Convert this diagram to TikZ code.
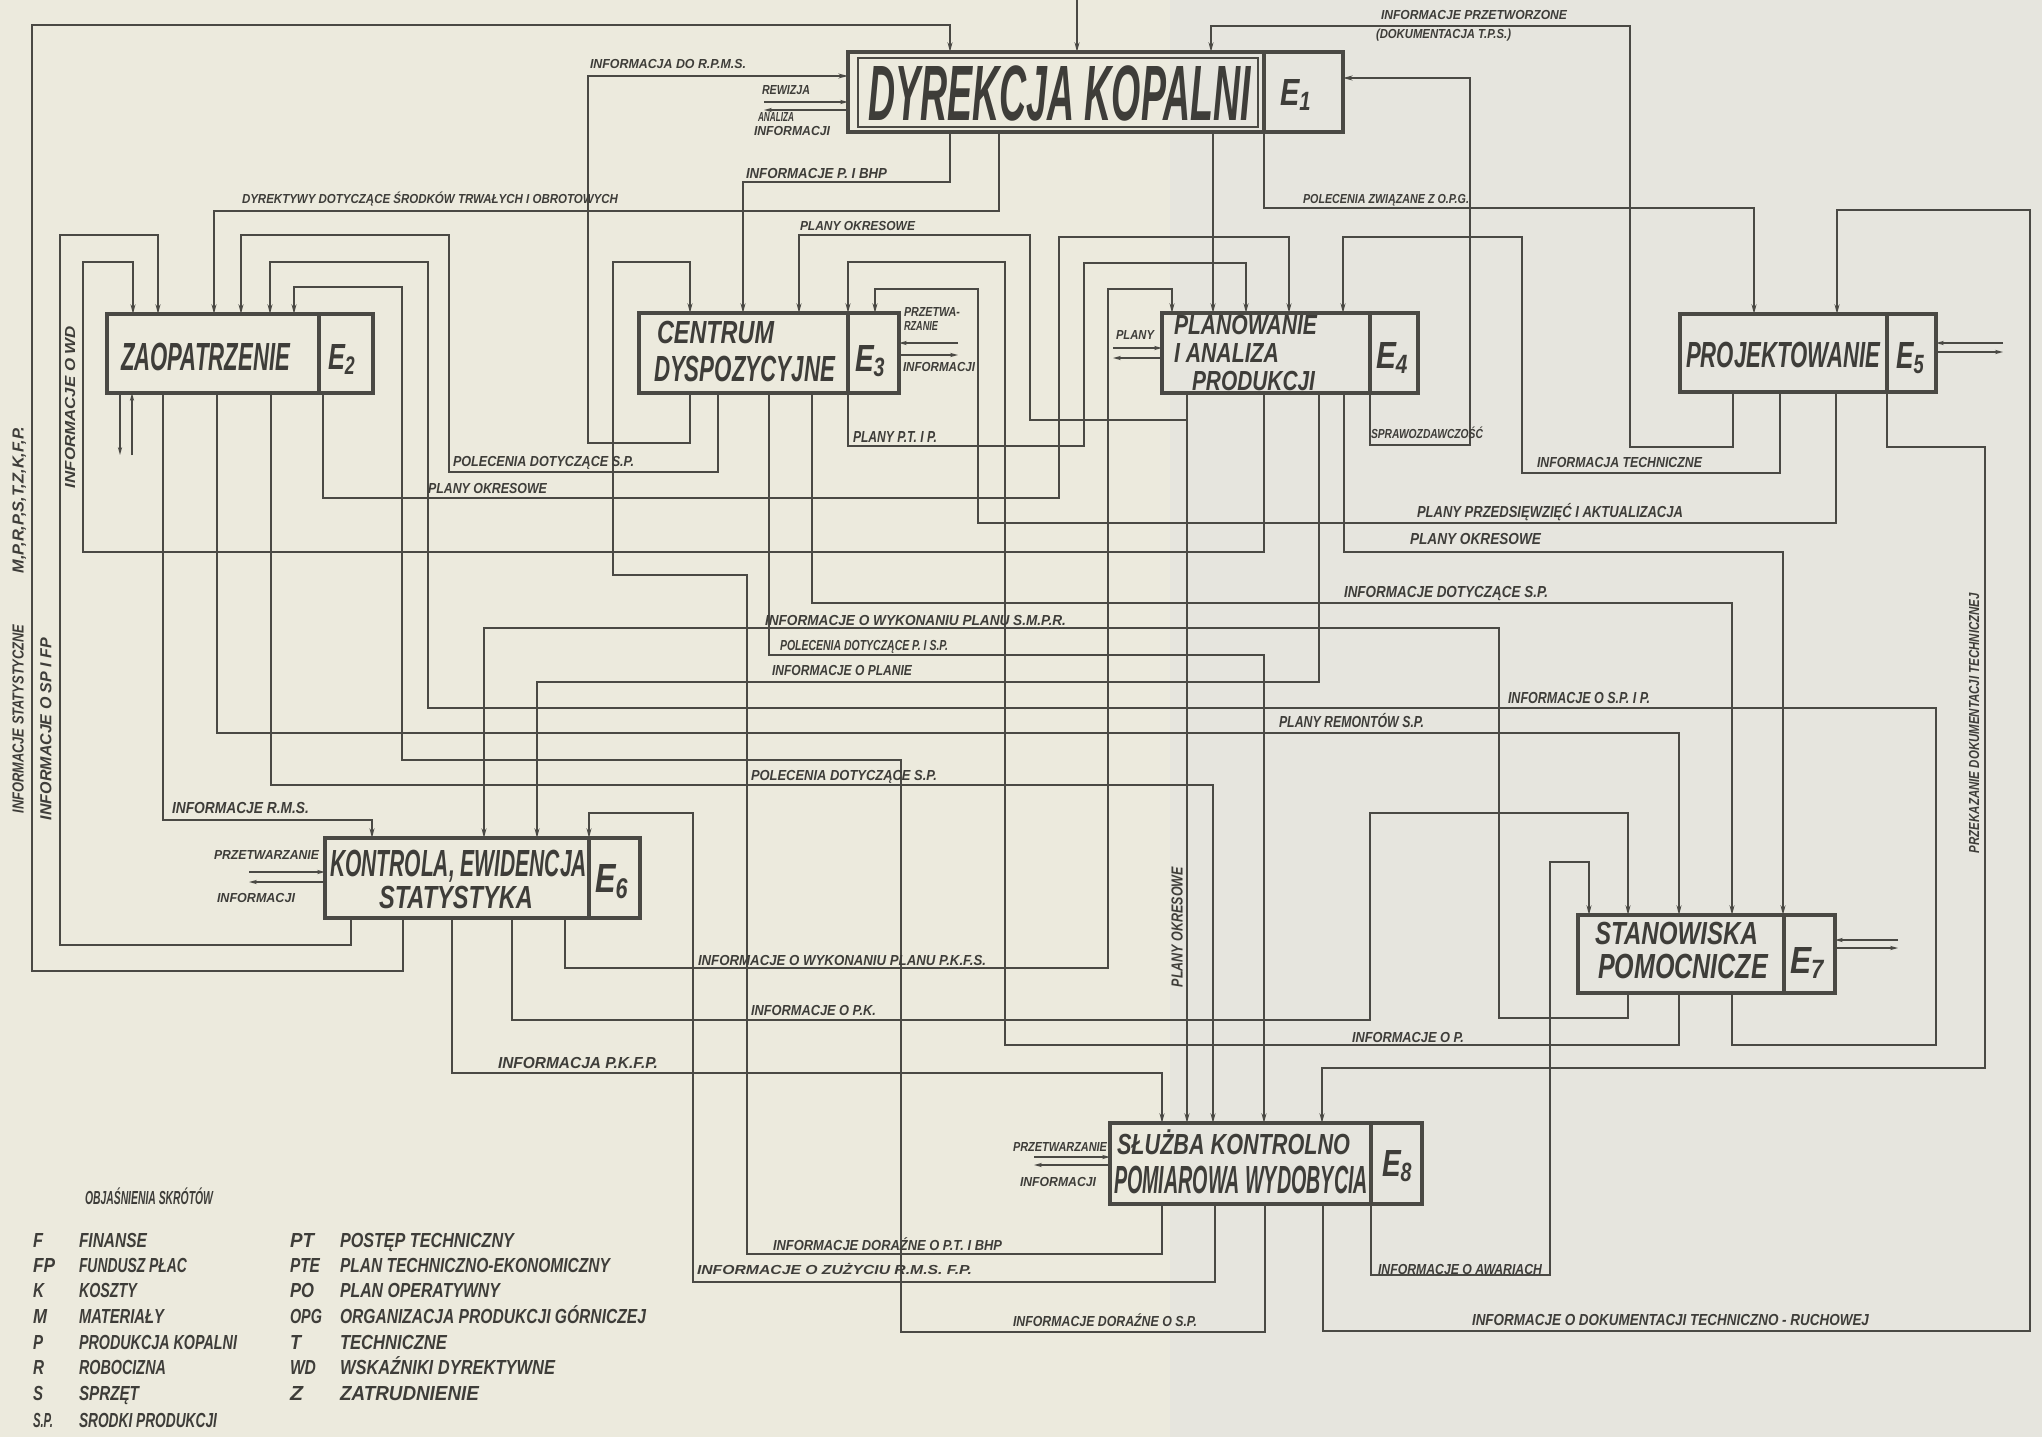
\documentclass[tikz,border=0pt]{standalone}
\usepackage{fontspec}
\usepackage{graphicx}
\usetikzlibrary{arrows.meta}
\newfontfamily\hf{Liberation Sans}
\newlength\un
\setlength\un{0.02cm}
\newcommand\tx[3]{\resizebox{#1\un}{#2\un}{\raisebox{0pt}[\fontcharht\font`E][0pt]{#3}}}
\definecolor{bg}{RGB}{236,234,221}
\definecolor{bgr}{RGB}{230,229,222}
\definecolor{ink}{RGB}{74,73,68}
\definecolor{txt}{RGB}{62,61,57}
\begin{document}
\begin{tikzpicture}[x=0.02cm, y=-0.02cm,
  wire/.style={draw=ink, line width=1.2pt, line join=miter},
  arr/.style={wire, -{Stealth[length=5.5pt,width=2.8pt]}},
  stub/.style={draw=ink, line width=1.1pt, -{Stealth[length=4.5pt,width=2.4pt]}},
  box/.style={draw=ink, line width=2pt, inner sep=0pt, outer sep=0pt, anchor=north west},
  lab/.style={inner sep=0pt, outer sep=0pt, anchor=west, text=txt, font=\hf\bfseries\itshape},
  rlab/.style={lab, anchor=center, rotate=90}]
\useasboundingbox (0,0) rectangle (2042,1437);
\fill[bg] (0,0) rectangle (2042,1437);
\fill[bgr] (1170,0) rectangle (2042,1437);

% ---------------- boxes
\node[box, line width=2.4pt, minimum width=9.9cm, minimum height=1.6cm] (E1) at (848,52) {};
\node[box, minimum width=5.32cm, minimum height=1.58cm] (E2) at (107,314) {};
\node[box, minimum width=5.2cm, minimum height=1.6cm] (E3) at (639,313) {};
\node[box, minimum width=5.12cm, minimum height=1.6cm] (E4) at (1162,313) {};
\node[box, minimum width=5.12cm, minimum height=1.56cm] (E5) at (1680,314) {};
\node[box, minimum width=6.3cm, minimum height=1.6cm] (E6) at (325,838) {};
\node[box, minimum width=5.14cm, minimum height=1.56cm] (E7) at (1578,915) {};
\node[box, minimum width=6.24cm, minimum height=1.62cm] (E8) at (1110,1123) {};
% dividers
\draw[ink, line width=1.6pt] (858,58) rectangle (1258,127);
\draw[ink, line width=2pt] (E1.north -| 1264,0) -- (E1.south -| 1264,0);
\draw[ink, line width=2pt] (E2.north -| 319,0) -- (E2.south -| 319,0);
\draw[ink, line width=2pt] (E3.north -| 848,0) -- (E3.south -| 848,0);
\draw[ink, line width=2pt] (E4.north -| 1370,0) -- (E4.south -| 1370,0);
\draw[ink, line width=2pt] (E5.north -| 1887,0) -- (E5.south -| 1887,0);
\draw[ink, line width=2pt] (E6.north -| 589,0) -- (E6.south -| 589,0);
\draw[ink, line width=2pt] (E7.north -| 1784,0) -- (E7.south -| 1784,0);
\draw[ink, line width=2pt] (E8.north -| 1371,0) -- (E8.south -| 1371,0);

% ---------------- connectors
\coordinate (ext1) at (1077,0);
\draw[arr] (ext1) -- (E1.north -| 1077,0);
\draw[arr] (E6.south -| 403,0) -- (403,971) -- (32,971) -- (32,25) -- (950,25) -- (E1.north -| 950,0);
\draw[arr] (E5.south -| 1733,0) -- (1733,447) -- (1630,447) -- (1630,26) -- (1211,26) -- (E1.north -| 1211,0);
\draw[arr] (E3.south -| 690,0) -- (690,443) -- (588,443) -- (588,76) -- (E1.west |- 0,76);
\draw[arr] (E4.south -| 1370,0) -- (1370,445) -- (1470,445) -- (1470,78) -- (E1.east |- 0,78);
\draw[arr] (E1.south -| 950,0) -- (950,182) -- (743,182) -- (E3.north -| 743,0);
\draw[arr] (E1.south -| 999,0) -- (999,211) -- (214,211) -- (E2.north -| 214,0);
\draw[arr] (E1.south -| 1213,0) -- (E4.north -| 1213,0);
\draw[arr] (E1.south -| 1264,0) -- (1264,208) -- (1754,208) -- (E5.north -| 1754,0);
\draw[arr] (E5.south -| 1780,0) -- (1780,473) -- (1522,473) -- (1522,237) -- (1343,237) -- (E4.north -| 1343,0);
\draw[arr] (E8.south -| 1323,0) -- (1323,1331) -- (2030,1331) -- (2030,210) -- (1837,210) -- (E5.north -| 1837,0);
\draw[arr] (E5.south -| 1887,0) -- (1887,447) -- (1985,447) -- (1985,1068) -- (1322,1068) -- (E8.north -| 1322,0);
\draw[arr] (E5.south -| 1836,0) -- (1836,523) -- (978,523) -- (978,289) -- (875,289) -- (E3.north -| 875,0);
\draw[arr] (E7.south -| 1679,0) -- (1679,1045) -- (1005,1045) -- (1005,262) -- (848,262) -- (E3.north -| 848,0);
\draw[arr] (E4.south -| 1187,0) -- (1187,420) -- (1030,420) -- (1030,235) -- (799,235) -- (E3.north -| 799,0);
\draw[arr] (E8.south -| 1162,0) -- (1162,1254) -- (747,1254) -- (747,575) -- (613,575) -- (613,262) -- (690,262) -- (E3.north -| 690,0);
\draw[arr] (E3.south -| 718,0) -- (718,472) -- (449,472) -- (449,235) -- (241,235) -- (E2.north -| 241,0);
\draw[arr] (E3.south -| 769,0) -- (769,655) -- (1264,655) -- (E8.north -| 1264,0);
\draw[arr] (E3.south -| 812,0) -- (812,603) -- (1732,603) -- (E7.north -| 1732,0);
\draw[arr] (E3.south -| 848,0) -- (848,446) -- (1084,446) -- (1084,263) -- (1246,263) -- (E4.north -| 1246,0);
\draw[arr] (E6.south -| 565,0) -- (565,968) -- (1108,968) -- (1108,289) -- (1172,289) -- (E4.north -| 1172,0);
\draw[arr] (E2.south -| 323,0) -- (323,498) -- (1059,498) -- (1059,237) -- (1289,237) -- (E4.north -| 1289,0);
\draw[arr] (E4.south -| 1264,0) -- (1264,552) -- (83,552) -- (83,262) -- (133,262) -- (E2.north -| 133,0);
\draw[arr] (E4.south -| 1319,0) -- (1319,682) -- (537,682) -- (E6.north -| 537,0);
\draw[arr] (E4.south -| 1344,0) -- (1344,552) -- (1783,552) -- (E7.north -| 1783,0);
\draw[arr] (E4.south -| 1187,0) -- (E8.north -| 1187,0);
\draw[arr] (E6.south -| 351,0) -- (351,945) -- (60,945) -- (60,235) -- (158,235) -- (E2.north -| 158,0);
\draw[arr] (E7.south -| 1732,0) -- (1732,1045) -- (1936,1045) -- (1936,708) -- (428,708) -- (428,262) -- (270,262) -- (E2.north -| 270,0);
\draw[arr] (E8.south -| 1265,0) -- (1265,1332) -- (901,1332) -- (901,760) -- (402,760) -- (402,287) -- (294,287) -- (E2.north -| 294,0);
\draw[arr] (E2.south -| 163,0) -- (163,820) -- (372,820) -- (E6.north -| 372,0);
\draw[arr] (E2.south -| 217,0) -- (217,733) -- (1679,733) -- (E7.north -| 1679,0);
\draw[arr] (E2.south -| 271,0) -- (271,785) -- (1213,785) -- (E8.north -| 1213,0);
\draw[arr] (E7.south -| 1628,0) -- (1628,1018) -- (1499,1018) -- (1499,628) -- (484,628) -- (E6.north -| 484,0);
\draw[arr] (E8.south -| 1215,0) -- (1215,1282) -- (693,1282) -- (693,813) -- (589,813) -- (E6.north -| 589,0);
\draw[arr] (E6.south -| 452,0) -- (452,1073) -- (1162,1073) -- (E8.north -| 1162,0);
\draw[arr] (E6.south -| 512,0) -- (512,1020) -- (1370,1020) -- (1370,813) -- (1628,813) -- (E7.north -| 1628,0);
\draw[arr] (E8.south -| 1371,0) -- (1371,1275) -- (1550,1275) -- (1550,862) -- (1589,862) -- (E7.north -| 1589,0);

% external double arrows
\coordinate (s1a) at (764,102); \coordinate (s1b) at (764,110);
\draw[stub] (s1a) -- (E1.west |- 0,102); \draw[stub] (E1.west |- 0,110) -- (s1b);
\coordinate (s2a) at (120,455); \coordinate (s2b) at (132,455);
\draw[stub] (E2.south -| 120,0) -- (s2a); \draw[stub] (s2b) -- (E2.south -| 132,0);
\coordinate (s3a) at (958,343); \coordinate (s3b) at (958,355);
\draw[stub] (s3a) -- (E3.east |- 0,343); \draw[stub] (E3.east |- 0,355) -- (s3b);
\coordinate (s4a) at (1113,348); \coordinate (s4b) at (1113,358);
\draw[stub] (s4a) -- (E4.west |- 0,348); \draw[stub] (E4.west |- 0,358) -- (s4b);
\coordinate (s5a) at (2003,343); \coordinate (s5b) at (2003,352);
\draw[stub] (s5a) -- (E5.east |- 0,343); \draw[stub] (E5.east |- 0,352) -- (s5b);
\coordinate (s6a) at (249,872); \coordinate (s6b) at (249,882);
\draw[stub] (s6a) -- (E6.west |- 0,872); \draw[stub] (E6.west |- 0,882) -- (s6b);
\coordinate (s7a) at (1898,940); \coordinate (s7b) at (1898,948);
\draw[stub] (s7a) -- (E7.east |- 0,940); \draw[stub] (E7.east |- 0,948) -- (s7b);
\coordinate (s8a) at (1034,1157); \coordinate (s8b) at (1034,1165);
\draw[stub] (s8a) -- (E8.west |- 0,1157); \draw[stub] (E8.west |- 0,1165) -- (s8b);

% ---------------- box titles
\node[lab] (t1) at (868,93) {\tx{383}{54}{DYREKCJA KOPALNI}};
\node[lab] (t1e) at (1280,92) {\tx{32}{26}{E\textsubscript{1}}};
\node[lab] (t2) at (121,357) {\tx{169}{27}{ZAOPATRZENIE}};
\node[lab] (t2e) at (328,357) {\tx{28}{25}{E\textsubscript{2}}};
\node[lab] (t3a) at (657,332) {\tx{117}{22}{CENTRUM}};
\node[lab] (t3b) at (654,369) {\tx{181}{25}{DYSPOZYCYJNE}};
\node[lab] (t3e) at (855,358) {\tx{31}{26}{E\textsubscript{3}}};
\node[lab] (t4a) at (1174,325) {\tx{143}{19}{PLANOWANIE}};
\node[lab] (t4b) at (1174,353) {\tx{105}{19}{I ANALIZA}};
\node[lab] (t4c) at (1192,381) {\tx{123}{19}{PRODUKCJI}};
\node[lab] (t4e) at (1376,355) {\tx{33}{26}{E\textsubscript{4}}};
\node[lab] (t5) at (1686,355) {\tx{194}{25}{PROJEKTOWANIE}};
\node[lab] (t5e) at (1896,355) {\tx{29}{26}{E\textsubscript{5}}};
\node[lab] (t6a) at (330,863) {\tx{257}{26}{KONTROLA, EWIDENCJA}};
\node[lab] (t6b) at (379,897) {\tx{154}{22}{STATYSTYKA}};
\node[lab] (t6e) at (595,878) {\tx{34}{28}{E\textsubscript{6}}};
\node[lab] (t7a) at (1595,933) {\tx{163}{22}{STANOWISKA}};
\node[lab] (t7b) at (1598,966) {\tx{170}{24}{POMOCNICZE}};
\node[lab] (t7e) at (1790,960) {\tx{35}{26}{E\textsubscript{7}}};
\node[lab] (t8a) at (1117,1144) {\tx{233}{20}{SŁUŻBA KONTROLNO}};
\node[lab] (t8b) at (1114,1180) {\tx{254}{27}{POMIAROWA WYDOBYCIA}};
\node[lab] (t8e) at (1382,1163) {\tx{31}{26}{E\textsubscript{8}}};

% ---------------- connector labels
\node[lab] (l1) at (1381,15) {\tx{186}{9}{INFORMACJE PRZETWORZONE}};
\node[lab] (l2) at (1376,34) {\tx{135}{9}{(DOKUMENTACJA T.P.S.)}};
\node[lab] (l3) at (590,64) {\tx{156}{9}{INFORMACJA DO R.P.M.S.}};
\node[lab] (l4) at (762,90) {\tx{48}{9}{REWIZJA}};
\node[lab] (l5) at (758,117) {\tx{36}{9}{ANALIZA}};
\node[lab] (l6) at (754,131) {\tx{76}{9}{INFORMACJI}};
\node[lab] (l7) at (746,173) {\tx{141}{10}{INFORMACJE P. I BHP}};
\node[lab] (l8) at (242,199) {\tx{376}{9}{DYREKTYWY DOTYCZĄCE ŚRODKÓW TRWAŁYCH I OBROTOWYCH}};
\node[lab] (l9) at (1303,199) {\tx{166}{9}{POLECENIA ZWIĄZANE Z O.P.G.}};
\node[lab] (l10) at (800,226) {\tx{115}{9}{PLANY OKRESOWE}};
\node[lab] (l11a) at (904,312) {\tx{56}{9}{PRZETWA-}};
\node[lab] (l11b) at (904,326) {\tx{34}{9}{RZANIE}};
\node[lab] (l11c) at (903,367) {\tx{72}{9}{INFORMACJI}};
\node[lab] (l12) at (1116,335) {\tx{38}{9}{PLANY}};
\node[lab] (l13) at (853,437) {\tx{84}{11}{PLANY P.T. I P.}};
\node[lab] (l14) at (1371,434) {\tx{112}{9}{SPRAWOZDAWCZOŚĆ}};
\node[lab] (l15) at (1537,462) {\tx{165}{10}{INFORMACJA TECHNICZNE}};
\node[lab] (l16) at (453,461) {\tx{181}{10}{POLECENIA DOTYCZĄCE S.P.}};
\node[lab] (l17) at (428,488) {\tx{119}{10}{PLANY OKRESOWE}};
\node[lab] (l18) at (1417,512) {\tx{266}{11}{PLANY PRZEDSIĘWZIĘĆ I AKTUALIZACJA}};
\node[lab] (l19) at (1410,539) {\tx{131}{11}{PLANY OKRESOWE}};
\node[lab] (l20) at (1344,592) {\tx{204}{11}{INFORMACJE DOTYCZĄCE S.P.}};
\node[lab] (l21) at (765,620) {\tx{301}{10}{INFORMACJE O WYKONANIU PLANU S.M.P.R.}};
\node[lab] (l22) at (780,645) {\tx{168}{10}{POLECENIA DOTYCZĄCE P. I S.P.}};
\node[lab] (l23) at (772,670) {\tx{140}{10}{INFORMACJE O PLANIE}};
\node[lab] (l24) at (1508,698) {\tx{142}{11}{INFORMACJE O S.P. I P.}};
\node[lab] (l25) at (1279,722) {\tx{145}{11}{PLANY REMONTÓW S.P.}};
\node[lab] (l26) at (751,775) {\tx{186}{10}{POLECENIA DOTYCZĄCE S.P.}};
\node[lab] (l27) at (172,808) {\tx{137}{11}{INFORMACJE R.M.S.}};
\node[lab] (l28a) at (214,855) {\tx{105}{9}{PRZETWARZANIE}};
\node[lab] (l28b) at (217,898) {\tx{78}{9}{INFORMACJI}};
\node[lab] (l29) at (698,960) {\tx{288}{10}{INFORMACJE O WYKONANIU PLANU P.K.F.S.}};
\node[lab] (l30) at (751,1010) {\tx{125}{10}{INFORMACJE O P.K.}};
\node[lab] (l31) at (1352,1037) {\tx{112}{10}{INFORMACJE O P.}};
\node[lab] (l32) at (498,1063) {\tx{160}{11}{INFORMACJA P.K.F.P.}};
\node[lab] (l33a) at (1013,1147) {\tx{94}{9}{PRZETWARZANIE}};
\node[lab] (l33b) at (1020,1182) {\tx{76}{9}{INFORMACJI}};
\node[lab] (l34) at (773,1245) {\tx{229}{10}{INFORMACJE DORAŹNE O P.T. I BHP}};
\node[lab] (l35) at (697,1270) {\tx{275}{9}{INFORMACJE O ZUŻYCIU R.M.S. F.P.}};
\node[lab] (l36) at (1378,1269) {\tx{164}{10}{INFORMACJE O AWARIACH}};
\node[lab] (l37) at (1013,1321) {\tx{184}{10}{INFORMACJE DORAŹNE O S.P.}};
\node[lab] (l38) at (1472,1320) {\tx{397}{11}{INFORMACJE O DOKUMENTACJI TECHNICZNO - RUCHOWEJ}};
\node[rlab] (l39) at (1974,723) {\tx{260}{10}{PRZEKAZANIE DOKUMENTACJI TECHNICZNEJ}};
\node[rlab] (l40) at (1177,927) {\tx{120}{11}{PLANY OKRESOWE}};
\node[rlab] (l41) at (18,500) {\tx{147}{11}{M,P,R,P,S,T,Z,K,F,P.}};
\node[rlab] (l42) at (18,719) {\tx{189}{11}{INFORMACJE STATYSTYCZNE}};
\node[rlab] (l43) at (46,729) {\tx{182}{11}{INFORMACJE O SP I FP}};
\node[rlab] (l44) at (70,407) {\tx{162}{10}{INFORMACJE O WD}};

% ---------------- legend
\node[lab] (lg0) at (85,1198) {\tx{128}{13}{OBJAŚNIENIA SKRÓTÓW}};
\node[lab] (a1) at (33,1240) {\tx{10}{14}{F}};
\node[lab] (b1) at (79,1240) {\tx{68}{14}{FINANSE}};
\node[lab] (a2) at (33,1265) {\tx{22}{14}{FP}};
\node[lab] (b2) at (79,1265) {\tx{108}{14}{FUNDUSZ PŁAC}};
\node[lab] (a3) at (33,1290) {\tx{11}{14}{K}};
\node[lab] (b3) at (79,1290) {\tx{58}{14}{KOSZTY}};
\node[lab] (a4) at (33,1316) {\tx{14}{14}{M}};
\node[lab] (b4) at (79,1316) {\tx{85}{14}{MATERIAŁY}};
\node[lab] (a5) at (33,1342) {\tx{10}{14}{P}};
\node[lab] (b5) at (79,1342) {\tx{158}{14}{PRODUKCJA KOPALNI}};
\node[lab] (a6) at (33,1367) {\tx{11}{14}{R}};
\node[lab] (b6) at (79,1367) {\tx{87}{14}{ROBOCIZNA}};
\node[lab] (a7) at (33,1393) {\tx{10}{14}{S}};
\node[lab] (b7) at (79,1393) {\tx{60}{14}{SPRZĘT}};
\node[lab] (a8) at (33,1420) {\tx{20}{14}{S.P.}};
\node[lab] (b8) at (79,1420) {\tx{138}{14}{SRODKI PRODUKCJI}};
\node[lab] (c1) at (290,1240) {\tx{24}{14}{PT}};
\node[lab] (d1) at (340,1240) {\tx{174}{14}{POSTĘP TECHNICZNY}};
\node[lab] (c2) at (290,1265) {\tx{30}{14}{PTE}};
\node[lab] (d2) at (340,1265) {\tx{270}{14}{PLAN TECHNICZNO-EKONOMICZNY}};
\node[lab] (c3) at (290,1290) {\tx{24}{14}{PO}};
\node[lab] (d3) at (340,1290) {\tx{160}{14}{PLAN OPERATYWNY}};
\node[lab] (c4) at (290,1316) {\tx{32}{14}{OPG}};
\node[lab] (d4) at (340,1316) {\tx{306}{14}{ORGANIZACJA PRODUKCJI GÓRNICZEJ}};
\node[lab] (c5) at (290,1342) {\tx{11}{14}{T}};
\node[lab] (d5) at (340,1342) {\tx{107}{14}{TECHNICZNE}};
\node[lab] (c6) at (290,1367) {\tx{26}{14}{WD}};
\node[lab] (d6) at (340,1367) {\tx{215}{14}{WSKAŹNIKI DYREKTYWNE}};
\node[lab] (c7) at (290,1393) {\tx{13}{14}{Z}};
\node[lab] (d7) at (340,1393) {\tx{139}{14}{ZATRUDNIENIE}};
\end{tikzpicture}
\end{document}
